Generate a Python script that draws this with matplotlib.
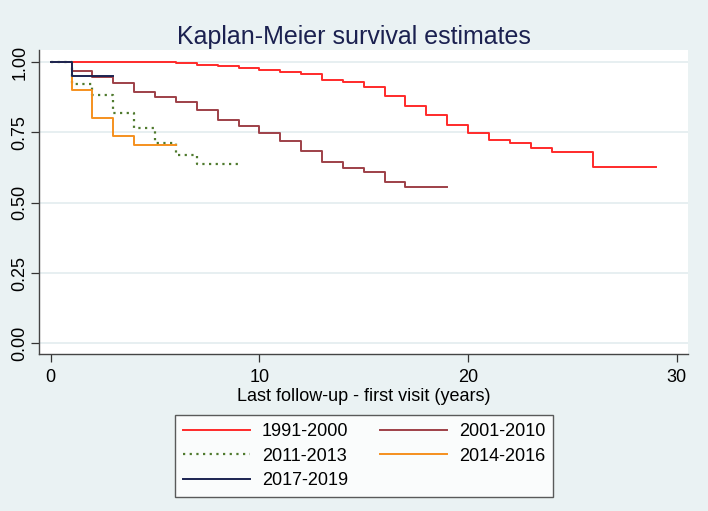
import numpy as np
import matplotlib.pyplot as plt

plt.rcParams['font.family'] = ['Liberation Sans', 'DejaVu Sans']

# Kaplan-Meier step curves (time in years, survival)
t_1991 = [0, 6, 7, 8, 9, 10, 11, 12, 13, 14, 15, 16, 17, 18, 19, 20, 21, 22, 23, 24, 26, 29]
s_1991 = [1, .996, .991, .986, .979, .973, .966, .958, .936, .928, .911, .880, .845, .812,
          .777, .749, .725, .714, .695, .679, .626, .626]

t_2001 = [0, 1, 2, 3, 4, 5, 6, 7, 8, 9, 10, 11, 12, 13, 14, 15, 16, 17, 19]
s_2001 = [1, .968, .946, .926, .895, .875, .858, .829, .796, .774, .747, .721, .684, .646,
          .625, .611, .575, .557, .557]

t_2011 = [0, 1, 2, 3, 4, 5, 6, 7, 9]
s_2011 = [1, .922, .885, .821, .767, .711, .670, .638, .638]

t_2014 = [0, 1, 2, 3, 4, 6]
s_2014 = [1, .900, .803, .738, .707, .707]

t_2017 = [0, 1, 3]
s_2017 = [1, .950, .950]

labels = ['1991-2000', '2001-2010', '2011-2013', '2014-2016', '2017-2019']
xticks = [0, 10, 20, 30]
yticks = [0, .25, .5, .75, 1]
ytick_labels = ['0.00', '0.25', '0.50', '0.75', '1.00']

bg = '#EAF2F3'
fig = plt.figure(figsize=(7.08, 5.11), dpi=100, facecolor=bg)
ax = fig.add_axes([0.0551, 0.307, 0.917, 0.595])
ax.set_facecolor('white')

h1, = ax.step(t_1991, s_1991, where='post', color='#FF2A2A', lw=1.4)
h2, = ax.step(t_2001, s_2001, where='post', color='#9E4048', lw=1.4)
h3, = ax.step(t_2011, s_2011, where='post', color='#4F7A2E', lw=1.6, ls=(0, (1.0, 2.0)))
h4, = ax.step(t_2014, s_2014, where='post', color='#F5901E', lw=1.4)
h5, = ax.step(t_2017, s_2017, where='post', color='#1B2452', lw=1.4)

ax.set_xlim(-0.56, 30.55)
ax.set_ylim(-0.038, 1.043)
ax.set_xticks(xticks)
ax.set_yticks(yticks)
ax.set_yticklabels(ytick_labels, rotation=90, va='center')
ax.tick_params(axis='both', labelsize=13, length=6, width=0.9, color='#333333')
ax.tick_params(axis='x', pad=5)
ax.tick_params(axis='y', pad=1.5)
ax.grid(axis='y', color='#E3ECEF', lw=1.2)
ax.set_axisbelow(True)
for side in ['top', 'right']:
    ax.spines[side].set_visible(False)
for side in ['left', 'bottom']:
    ax.spines[side].set_color('#444444')
    ax.spines[side].set_linewidth(1.0)

ax.set_xlabel('Last follow-up - first visit (years)', fontsize=13, labelpad=1)
fig.suptitle('Kaplan-Meier survival estimates', fontsize=18, color='#1B2150', y=0.952)

# stata fills legend rows first, matplotlib fills columns first
handles = [h1, h3, h5, h2, h4]
leg_labels = [labels[0], labels[2], labels[4], labels[1], labels[3]]
leg = fig.legend(handles, leg_labels, ncol=2, loc='center', bbox_to_anchor=(0.514, 0.1076),
                 fontsize=13, frameon=True, fancybox=False, handlelength=3.7,
                 columnspacing=1.75, handletextpad=0.67, labelspacing=0.42, borderpad=0.45)
leg.get_frame().set_edgecolor('#333333')
leg.get_frame().set_linewidth(1.0)

plt.savefig('out.png', dpi=100, facecolor=bg)
